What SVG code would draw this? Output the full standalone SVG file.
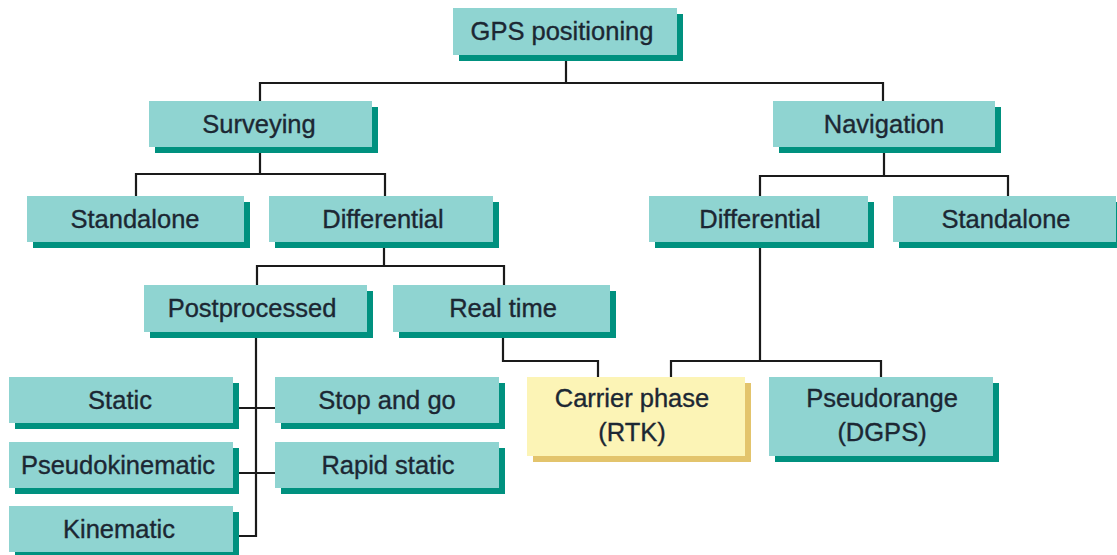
<svg xmlns="http://www.w3.org/2000/svg" width="1117" height="555" viewBox="0 0 1117 555">
<style>
.face{fill:#8fd4d1}
.shadow{fill:#00917f}
.yface{fill:#fcf4b6}
.yshadow{fill:#e3c46c}
.lbl{font-family:"Liberation Sans",Arial,sans-serif;font-size:25.5px;fill:#1c2733;stroke:#1c2733;stroke-width:0.35;text-anchor:middle}
.conn{fill:none;stroke:#1a1a1a;stroke-width:2.2}
</style>
<rect width="1117" height="555" fill="#ffffff"/>
<g id="connectors">
<path class="conn" d="M566,61 V83 M260,101 V83 H883 V101"/>
<path class="conn" d="M260,153 V174 M136,196 V174 H385 V196"/>
<path class="conn" d="M884,153 V176 M760,196 V176 H1008 V196"/>
<path class="conn" d="M384,248 V266 M257,285 V266 H504 V285"/>
<path class="conn" d="M256,338 V536 H239 M239,408 H275 M239,473 H275"/>
<path class="conn" d="M503,337 V361 H598 V377"/>
<path class="conn" d="M760,248 V361 M671,377 V361 H881 V377"/>
</g>
<g id="gps"><rect class="shadow" x="459" y="14" width="224" height="47"/><rect class="face" x="453" y="8" width="224" height="47"/><text class="lbl" x="562" y="40">GPS positioning</text></g>
<g id="surveying"><rect class="shadow" x="155" y="107" width="223" height="46"/><rect class="face" x="149" y="101" width="223" height="46"/><text class="lbl" x="259" y="133">Surveying</text></g>
<g id="navigation"><rect class="shadow" x="779" y="107" width="222" height="46"/><rect class="face" x="773" y="101" width="222" height="46"/><text class="lbl" x="884" y="133">Navigation</text></g>
<g id="surv-standalone"><rect class="shadow" x="33" y="202" width="217" height="46"/><rect class="face" x="27" y="196" width="217" height="46"/><text class="lbl" x="135" y="228">Standalone</text></g>
<g id="surv-differential"><rect class="shadow" x="275" y="202" width="224" height="46"/><rect class="face" x="269" y="196" width="224" height="46"/><text class="lbl" x="383" y="228">Differential</text></g>
<g id="nav-differential"><rect class="shadow" x="655" y="202" width="219" height="46"/><rect class="face" x="649" y="196" width="219" height="46"/><text class="lbl" x="760" y="228">Differential</text></g>
<g id="nav-standalone"><rect class="shadow" x="899" y="202" width="223" height="46"/><rect class="face" x="893" y="196" width="223" height="46"/><text class="lbl" x="1006" y="228">Standalone</text></g>
<g id="postprocessed"><rect class="shadow" x="150" y="291" width="223" height="47"/><rect class="face" x="144" y="285" width="223" height="47"/><text class="lbl" x="252" y="317">Postprocessed</text></g>
<g id="realtime"><rect class="shadow" x="399" y="291" width="217" height="47"/><rect class="face" x="393" y="285" width="217" height="47"/><text class="lbl" x="503" y="317">Real time</text></g>
<g id="static"><rect class="shadow" x="15" y="383" width="224" height="46"/><rect class="face" x="9" y="377" width="224" height="46"/><text class="lbl" x="120" y="409">Static</text></g>
<g id="stopgo"><rect class="shadow" x="281" y="383" width="224" height="46"/><rect class="face" x="275" y="377" width="224" height="46"/><text class="lbl" x="387" y="409">Stop and go</text></g>
<g id="pseudokinematic"><rect class="shadow" x="15" y="448" width="224" height="46"/><rect class="face" x="9" y="442" width="224" height="46"/><text class="lbl" x="118" y="474">Pseudokinematic</text></g>
<g id="rapidstatic"><rect class="shadow" x="281" y="448" width="224" height="46"/><rect class="face" x="275" y="442" width="224" height="46"/><text class="lbl" x="388" y="474">Rapid static</text></g>
<g id="kinematic"><rect class="shadow" x="15" y="512" width="224" height="46"/><rect class="face" x="9" y="506" width="224" height="46"/><text class="lbl" x="119" y="538">Kinematic</text></g>
<g id="carrier"><rect class="yshadow" x="533" y="383" width="218" height="79"/><rect class="yface" x="527" y="377" width="218" height="79"/><text class="lbl" x="632" y="407">Carrier phase</text><text class="lbl" x="632" y="441">(RTK)</text></g>
<g id="pseudorange"><rect class="shadow" x="775" y="383" width="224" height="79"/><rect class="face" x="769" y="377" width="224" height="79"/><text class="lbl" x="882" y="407">Pseudorange</text><text class="lbl" x="882" y="441">(DGPS)</text></g>
</svg>
